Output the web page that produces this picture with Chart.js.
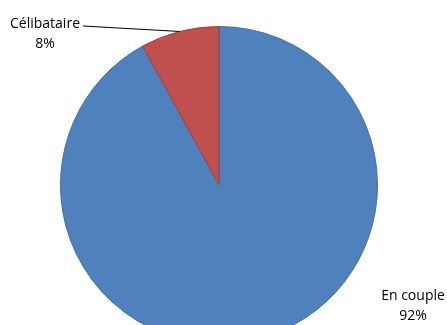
<!DOCTYPE html>
<html>
<head>
<meta charset="utf-8">
<script src="https://cdn.jsdelivr.net/npm/chart.js@4"></script>
<style>
  html, body { margin: 0; padding: 0; background: #fff; overflow: hidden; }
  #c { display: block; }
</style>
</head>
<body>
<canvas id="c" width="447" height="350"></canvas>
<script>
// données
const categories = ['En couple', 'Célibataire'];
const valeurs = [92, 8];
const etiquettes = ['92%', '8%'];
const couleurs = ['#4F81BD', '#C0504D'];
const bordures = ['#41709F', '#9E3F3C'];

// étiquettes placées comme dans Excel (décalage par rapport au centre du camembert)
const positions = [
    { dx: 194, dy: 111, leader: false },
    { dx: -174, dy: -161, leader: true }
];

const etiquettesPlugin = {
    id: 'etiquettes',
    afterDatasetsDraw(chart) {
        const ctx = chart.ctx;
        const arcs = chart.getDatasetMeta(0).data;
        ctx.save();
        ctx.font = '14px "Open Sans", Arial, sans-serif';
        ctx.fillStyle = '#000';
        ctx.textAlign = 'center';
        ctx.textBaseline = 'middle';
        arcs.forEach((arc, i) => {
            const p = positions[i];
            const x = arc.x + p.dx;
            const y = arc.y + p.dy;
            ctx.fillText(categories[i], x, y);
            ctx.fillText(etiquettes[i], x, y + 20);
            if (p.leader) {
                const mid = (arc.startAngle + arc.endAngle) / 2;
                const r = arc.outerRadius;
                const w = ctx.measureText(categories[i]).width;
                ctx.beginPath();
                ctx.strokeStyle = '#000';
                ctx.lineWidth = 1;
                ctx.moveTo(x + w / 2 + 3, y + 2);
                ctx.lineTo(arc.x + Math.cos(mid) * r, arc.y + Math.sin(mid) * r);
                ctx.stroke();
            }
        });
        ctx.restore();
    }
};

new Chart(document.getElementById('c'), {
    type: 'pie',
    data: {
        labels: categories,
        datasets: [{
            data: valeurs,
            backgroundColor: couleurs,
            borderColor: bordures,
            borderWidth: 1
        }]
    },
    options: {
        responsive: false,
        animation: false,
        layout: { padding: { top: 26, left: 60, right: 69, bottom: 6 } },
        plugins: { legend: { display: false }, tooltip: { enabled: false } }
    },
    plugins: [etiquettesPlugin]
});
</script>
</body>
</html>
